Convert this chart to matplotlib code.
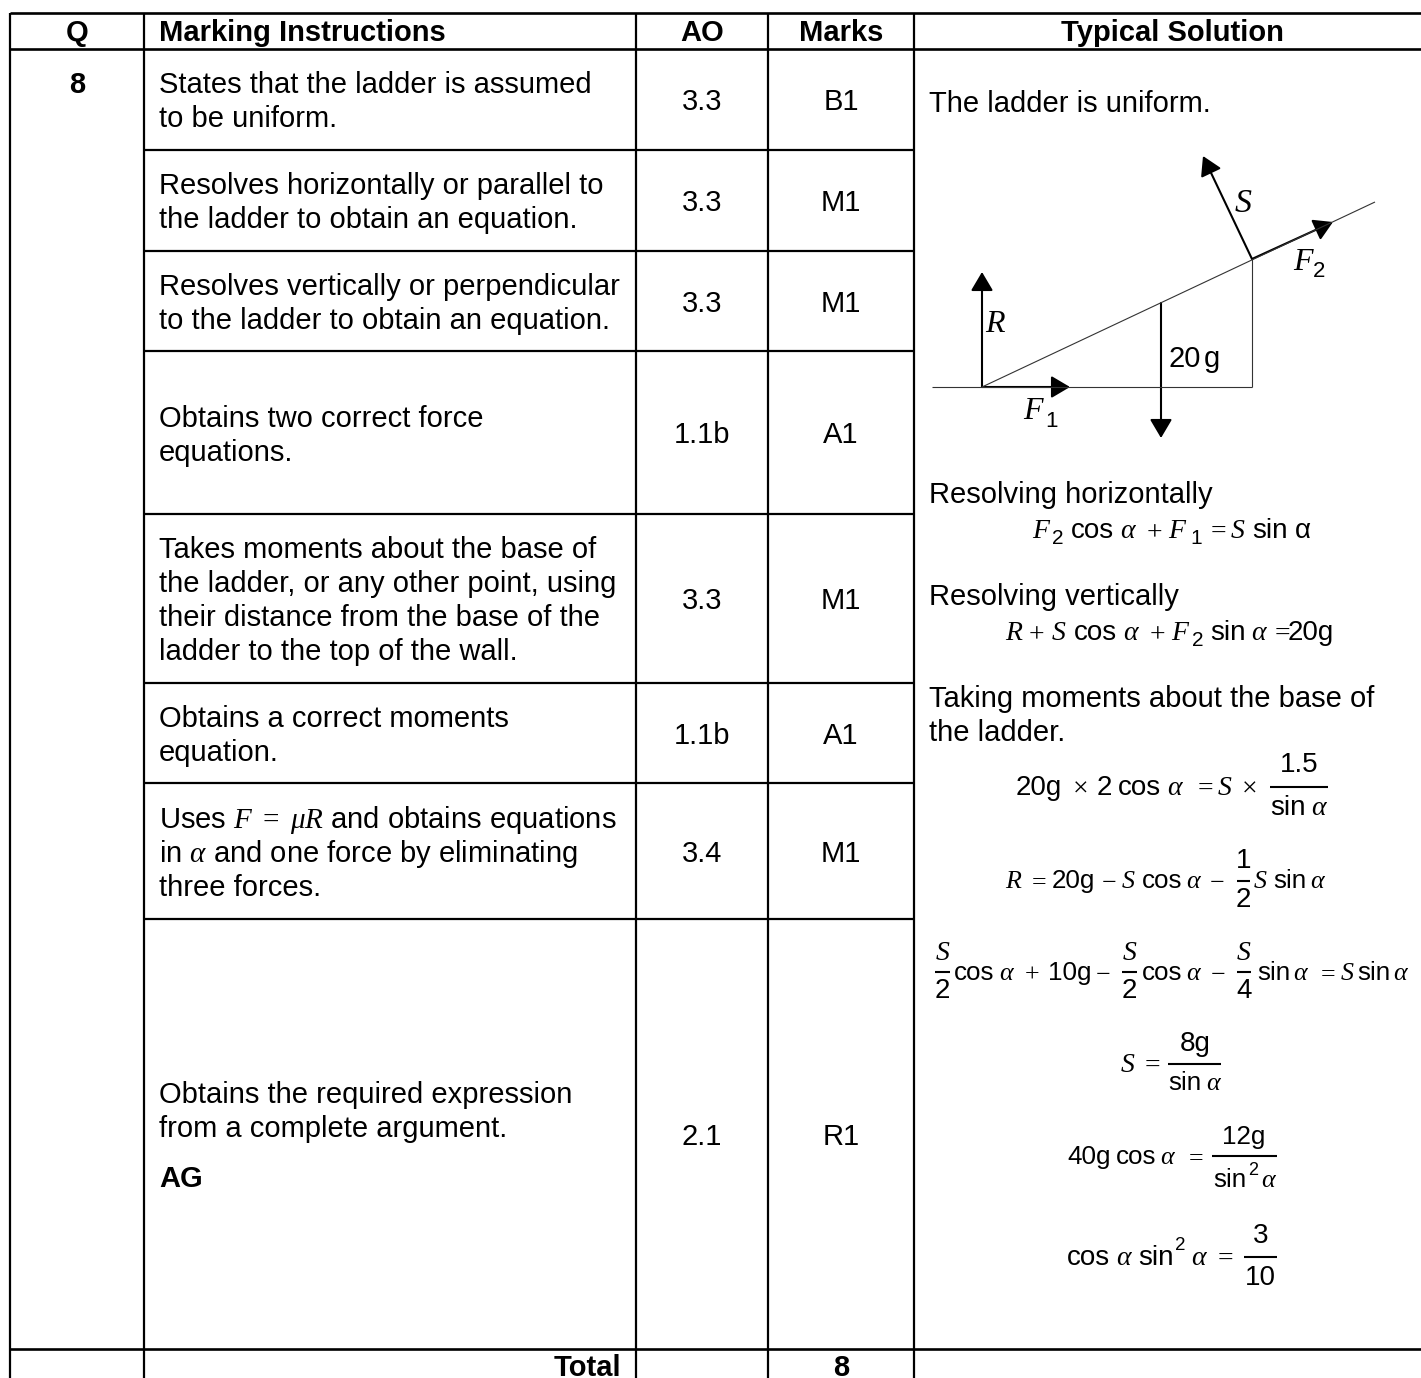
from matplotlib import pyplot as plt
from matplotlib.patches import FancyArrowPatch

plt.rcParams['font.family'] = ['Liberation Sans', 'DejaVu Sans']
plt.rcParams['mathtext.fontset'] = 'custom'
plt.rcParams['mathtext.rm'] = 'Liberation Serif'
plt.rcParams['mathtext.it'] = 'Liberation Serif:italic'
plt.rcParams['mathtext.sf'] = 'Liberation Sans'

headers = ["Q", "Marking Instructions", "AO", "Marks", "Typical Solution"]
question = "8"
instructions = [
    ["States that the ladder is assumed", "to be uniform."],
    ["Resolves horizontally or parallel to", "the ladder to obtain an equation."],
    ["Resolves vertically or perpendicular", "to the ladder to obtain an equation."],
    ["Obtains two correct force", "equations."],
    ["Takes moments about the base of", "the ladder, or any other point, using",
     "their distance from the base of the", "ladder to the top of the wall."],
    ["Obtains a correct moments", "equation."],
    [r"Uses $F\ =\ \mu R$ and obtains equations", r"in $\alpha$ and one force by eliminating",
     "three forces."],
    ["Obtains the required expression", "from a complete argument."],
]
ao_codes = ["3.3", "3.3", "3.3", "1.1b", "3.3", "1.1b", "3.4", "2.1"]
marks = ["B1", "M1", "M1", "A1", "M1", "A1", "M1", "R1"]
total_marks = "8"

FS = 21.0
EQ_BIG = 20.0
EQ_SMALL = 18.7
TOP, HEAD, BOTTOM_ROW = 13, 49, 1349
row_lines = [150, 251, 351, 514, 683, 783, 919]
first_baseline = [93, 194, 295, 427, 558, 727, 828, 1103]
mark_baseline = [110, 211, 312, 443, 609, 744, 862, 1145]
col_x = [10, 144, 636, 768, 914]
IMG_W, IMG_H = 1421, 1378

S_ = r"$S$"
R_ = r"$R$"
F_ = r"$F$"
A_ = r"$\alpha$"
PLUS = r"$+$"
EQ_ = r"$=$"
MINUS = r"$-$"
TIMES = r"$\times$"


def txt(x, y, s, ha="left", weight="normal", size=FS):
    ax.text(x, y, s, ha=ha, va="baseline", fontsize=size, fontweight=weight, color="black")


def run(y, pieces, size):
    for x, s in pieces:
        # mathtext pieces come out a little to the right of plain text
        if s.startswith("$"):
            x = x - 2
        txt(x, y, s, size=size)


def rule(x0, x1, y):
    ax.plot([x0, x1], [y, y], color="black", lw=1.5, solid_capstyle="butt")


def force(x0, y0, x1, y1):
    ax.add_patch(FancyArrowPatch((x0, y0), (x1, y1), shrinkA=0, shrinkB=0, mutation_scale=1,
                                 arrowstyle="-|>,head_length=11.5,head_width=6.8",
                                 color="black", lw=1.5))


fig = plt.figure(figsize=(IMG_W / 100, IMG_H / 100), dpi=100)
ax = fig.add_axes([0, 0, 1, 1])
ax.set_xlim(0, IMG_W)
ax.set_ylim(IMG_H, 0)
ax.axis("off")

# table rules
for y in [TOP, HEAD, BOTTOM_ROW]:
    ax.plot([col_x[0], IMG_W], [y, y], color="black", lw=1.9, solid_capstyle="butt")
for y in row_lines:
    ax.plot([col_x[1], col_x[4]], [y, y], color="black", lw=1.6, solid_capstyle="butt")
for x in col_x:
    ax.plot([x, x], [TOP, IMG_H], color="black", lw=1.6, solid_capstyle="butt")

# header
head_x = [77, 159, 702, 841, 1172]
head_ha = ["center", "left", "center", "center", "center"]
for x, s, ha in zip(head_x, headers, head_ha):
    txt(x, 41, s, ha=ha, weight="bold")
txt(77, 93, question, ha="center", weight="bold")

# left columns
for lines, y0, y1, ao, mk in zip(instructions, first_baseline, mark_baseline, ao_codes, marks):
    for i, line in enumerate(lines):
        txt(159, y0 + 34 * i, line)
    txt(702, y1, ao, ha="center")
    txt(841, y1, mk, ha="center")
txt(159, 1187, "AG", weight="bold")
txt(621, 1376, "Total", ha="right", weight="bold")
txt(841, 1376, total_marks, ha="center", weight="bold")

# solution text
txt(929, 112, "The ladder is uniform.")

# force diagram
for xs, ys in [((932, 1252), (387, 387)), ((982, 1375), (387, 202)), ((1252, 1252), (259, 387))]:
    ax.plot(xs, ys, color="#333333", lw=0.8, solid_capstyle="butt")
force(982, 387, 982, 272)
force(982, 387, 1070, 387)
force(1252, 259, 1203, 156)
force(1252, 259, 1333, 222)
force(1161, 303, 1161, 438)
txt(1234, 212, S_, size=24.5)
txt(985, 332, R_, size=23)
txt(1293, 270, F_, size=23)
txt(1313, 277, "2", size=16)
txt(1023, 419, F_, size=23)
txt(1045, 427, "1", size=16)
txt(1168, 367, "20")
txt(1204, 367, "g")

# working
txt(929, 503, "Resolving horizontally")
run(538, [(1034, F_), (1071, "cos"), (1122, A_), (1148, PLUS), (1170, F_), (1208, EQ_),
          (1232, S_), (1252, "sin"), (1295, "α")], EQ_BIG)
txt(1052, 544, "2", size=15)
txt(1190, 544, "1", size=15)

txt(929, 605, "Resolving vertically")
run(640, [(1007, R_), (1030, PLUS), (1053, S_), (1074, "cos"), (1125, A_), (1151, PLUS),
          (1173, F_), (1210, "sin"), (1253, A_), (1272, EQ_), (1288, "20g")], EQ_BIG)
txt(1192, 646, "2", size=15)

txt(929, 707, "Taking moments about the base of")
txt(929, 741, "the ladder.")

run(795, [(1016, "20g"), (1074, TIMES), (1097, "2"), (1118, "cos"), (1169, A_), (1195, EQ_),
          (1219, S_), (1243, TIMES)], EQ_BIG)
rule(1270, 1328, 787)
txt(1299, 772, "1.5", ha="center", size=EQ_BIG)
run(815, [(1270, "sin"), (1313, A_)], EQ_BIG)

run(888, [(1007, R_), (1030, EQ_), (1052, "20g"), (1103, MINUS), (1123, S_), (1142, "cos"),
          (1188, A_), (1211, MINUS), (1255, S_), (1273, "sin"), (1312, A_)], EQ_SMALL)
rule(1237, 1250, 881)
txt(1243.5, 868, "1", ha="center", size=EQ_BIG)
txt(1243.5, 907, "2", ha="center", size=EQ_BIG)

run(980, [(954, "cos"), (1001, A_), (1026, PLUS), (1048, "10g"), (1097, MINUS), (1142, "cos"),
          (1188, A_), (1212, MINUS), (1257, "sin"), (1295, A_), (1319, EQ_), (1342, S_),
          (1357, "sin"), (1395, A_)], EQ_SMALL)
for x0, x1, den in [(935, 950, "2"), (1122, 1137, "2"), (1237, 1251, "4")]:
    rule(x0, x1, 972)
    txt((x0 + x1) / 2, 960, S_, ha="center", size=EQ_BIG)
    txt((x0 + x1) / 2, 998, den, ha="center", size=EQ_BIG)

run(1072, [(1122, S_), (1142, EQ_)], EQ_BIG)
rule(1168, 1221, 1064)
txt(1195, 1051, "8g", ha="center", size=EQ_BIG)
run(1090, [(1168, "sin"), (1208, A_)], EQ_SMALL)

run(1164, [(1067, "40g"), (1116, "cos"), (1162, A_), (1187, EQ_)], EQ_SMALL)
rule(1212, 1277, 1156)
txt(1244, 1144, "12g", ha="center", size=EQ_SMALL)
run(1187, [(1213, "sin"), (1263, A_)], EQ_SMALL)
txt(1248, 1175, "2", size=13)

run(1265, [(1067, "cos"), (1118, A_), (1138, "sin"), (1193, A_), (1215, EQ_)], EQ_BIG)
txt(1175, 1250, "2", size=13.5)
rule(1244, 1277, 1257)
txt(1260.5, 1243, "3", ha="center", size=EQ_BIG)
txt(1260.5, 1285, "10", ha="center", size=EQ_BIG)

fig.savefig("out.png", dpi=100)
